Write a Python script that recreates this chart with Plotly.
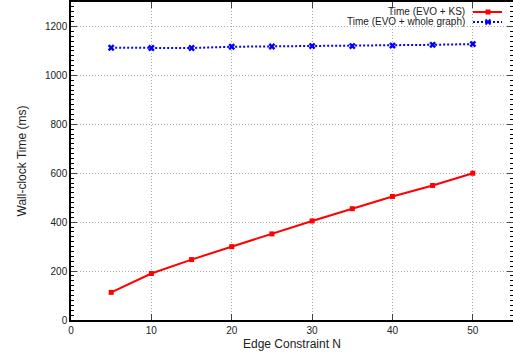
import plotly.graph_objects as go

n_values = [5, 10, 15, 20, 25, 30, 35, 40, 45, 50]
time_evo_ks = [113, 190, 247, 300, 352, 405, 455, 505, 550, 600]
time_evo_whole = [1113, 1112, 1112, 1117, 1118, 1120, 1120, 1122, 1125, 1128]
label_ks = "Time (EVO + KS)"
label_whole = "Time (EVO + whole graph)"

fig = go.Figure()
fig.add_trace(go.Scatter(x=n_values, y=time_evo_ks, mode="lines+markers", name=label_ks,
                         line=dict(color="#ff0000", width=2),
                         marker=dict(symbol="square", size=5, color="#ff0000")))
fig.add_trace(go.Scatter(x=n_values, y=time_evo_whole, mode="lines+markers", name=label_whole,
                         line=dict(color="#0000ff", width=2, dash="2px,2px"),
                         marker=dict(symbol="x", size=6, color="#0000ff")))

font = dict(family="Liberation Sans, Arial, sans-serif", size=10, color="#222")
grid = dict(showgrid=True, gridcolor="#aaa", griddash="1px,2px", gridwidth=1)
fig.update_layout(
    width=513, height=356, showlegend=False,
    margin=dict(l=71, r=0, t=2, b=36),
    plot_bgcolor="white", paper_bgcolor="white", font=font,
    xaxis=dict(range=[0, 55], tickvals=[0, 10, 20, 30, 40, 50], ticks="inside", ticklen=6,
               showline=True, linecolor="black", linewidth=1.5, mirror="ticks",
               zeroline=False, automargin=False, **grid,
               title=dict(text="Edge Constraint N", standoff=5)),
    yaxis=dict(range=[0, 1300], tickvals=[0, 200, 400, 600, 800, 1000, 1200], ticks="inside", ticklen=6,
               showline=True, linecolor="black", linewidth=1.5, mirror="ticks",
               zeroline=False, automargin=False, **grid,
               title=dict(text="Wall-clock Time (ms)", standoff=16),
               minor=dict(dtick=20, ticks="inside", ticklen=3, tickcolor="black", showgrid=False)),
)

# gnuplot-style key at top right
legend_rows = [(label_ks, "#ff0000", "solid", "square"), (label_whole, "#0000ff", "2px,2px", "x")]
for i, (lab, col, dash, sym) in enumerate(legend_rows):
    ypx = 12 + 10 * i
    yp = 1 - (ypx - 2) / 318
    fig.add_annotation(xref="paper", yref="paper", x=(467 - 71) / 442, y=yp, text=lab,
                       showarrow=False, xanchor="right", yanchor="middle", font=font)
    fig.add_shape(type="line", xref="paper", yref="paper",
                  x0=(473 - 71) / 442, x1=(502 - 71) / 442, y0=yp, y1=yp,
                  line=dict(color=col, width=2, dash=dash))
    cx = (488 - 71) / 442
    dx = 2.5 / 442
    dy = 2.5 / 318
    if sym == "square":
        fig.add_shape(type="rect", xref="paper", yref="paper", x0=cx - dx, x1=cx + dx,
                      y0=yp - dy, y1=yp + dy, fillcolor=col, line=dict(color=col, width=0))
    else:
        fig.add_shape(type="line", xref="paper", yref="paper", x0=cx - dx, x1=cx + dx,
                      y0=yp - dy, y1=yp + dy, line=dict(color=col, width=2))
        fig.add_shape(type="line", xref="paper", yref="paper", x0=cx - dx, x1=cx + dx,
                      y0=yp + dy, y1=yp - dy, line=dict(color=col, width=2))

fig.write_html("out.html", config={"displayModeBar": False},
               post_script="document.body.style.margin='0';document.body.style.overflow='hidden';")
